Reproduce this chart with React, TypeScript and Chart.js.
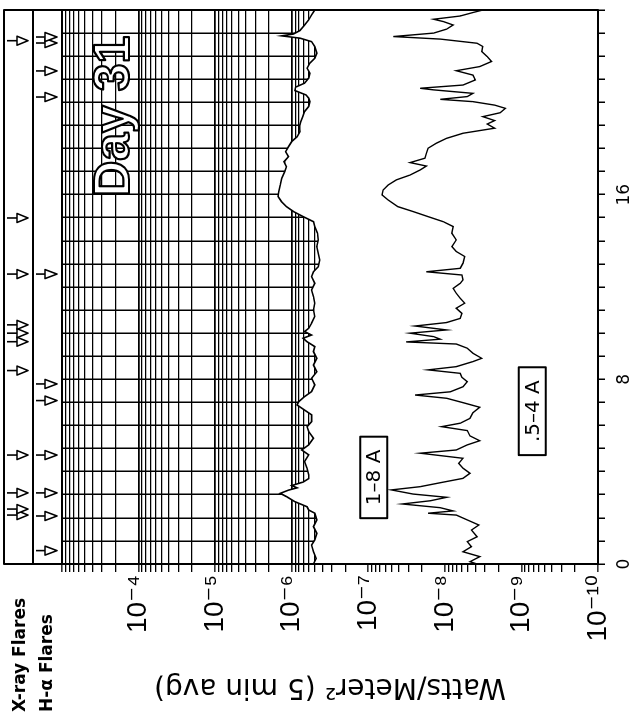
import { useEffect, useRef } from 'react';
import { Chart, registerables } from 'chart.js';

Chart.register(...registerables);

// ---------- data (hours UT, W/m^2) ----------
const longHours = [0.00, 0.24, 0.53, 0.82, 1.04, 1.33, 1.62, 1.91, 2.20, 2.34,
  2.48, 2.70, 2.92, 3.06, 3.20, 3.30, 3.40, 3.55, 3.70, 3.86,
  4.15, 4.44, 4.73, 4.94, 5.16, 5.45, 5.74, 5.95, 6.17, 6.46,
  6.67, 6.89, 7.03, 7.25, 7.47, 7.76, 8.05, 8.33, 8.62, 8.91,
  9.20, 9.42, 9.63, 9.78, 9.92, 10.07, 10.21, 10.43, 10.72, 11.01,
  11.30, 11.58, 11.87, 12.16, 12.45, 12.66, 12.88, 13.17, 13.46, 13.75,
  14.04, 14.33, 14.62, 14.83, 15.05, 15.27, 15.48, 15.70, 15.92, 16.13,
  16.42, 16.71, 17.00, 17.21, 17.43, 17.65, 17.86, 18.08, 18.30, 18.51,
  18.73, 18.95, 19.16, 19.38, 19.60, 19.82, 20.03, 20.18, 20.32, 20.51,
  20.66, 20.83, 21.05, 21.26, 21.48, 21.70, 21.91, 22.13, 22.42, 22.63,
  22.78, 22.88, 22.96, 23.11, 23.35, 23.57, 23.79, 24.00];

const longFlux = [5.2e-7, 4.8e-7, 5.2e-7, 5.5e-7, 5.0e-7, 4.7e-7, 5.2e-7, 4.7e-7, 5.0e-7, 6.0e-7,
  6.3e-7, 9.1e-7, 1.17e-6, 1.41e-6, 1.1e-6, 8.5e-7, 1.0e-6, 7.1e-7, 6.0e-7, 6.0e-7,
  6.3e-7, 6.8e-7, 6.0e-7, 7.4e-7, 6.0e-7, 5.2e-7, 6.0e-7, 6.3e-7, 5.5e-7, 5.5e-7,
  6.8e-7, 8.5e-7, 8.1e-7, 6.8e-7, 5.5e-7, 5.0e-7, 5.5e-7, 4.7e-7, 5.2e-7, 4.7e-7,
  5.2e-7, 5.0e-7, 6.3e-7, 7.1e-7, 5.5e-7, 6.8e-7, 6.0e-7, 5.5e-7, 5.0e-7, 5.2e-7,
  5.0e-7, 5.2e-7, 5.5e-7, 5.0e-7, 5.5e-7, 5.2e-7, 4.5e-7, 4.3e-7, 4.5e-7, 4.7e-7,
  4.5e-7, 4.6e-7, 5.0e-7, 5.2e-7, 7.1e-7, 9.5e-7, 1.17e-6, 1.36e-6, 1.51e-6, 1.48e-6,
  1.41e-6, 1.35e-6, 1.23e-6, 1.17e-6, 1.26e-6, 1.10e-6, 1.2e-6, 1.10e-6, 1.0e-6, 8.5e-7,
  7.8e-7, 7.9e-7, 7.6e-7, 7.2e-7, 6.8e-7, 6.0e-7, 5.8e-7, 6.0e-7, 6.5e-7, 9.1e-7,
  8.9e-7, 6.8e-7, 6.0e-7, 5.8e-7, 6.3e-7, 5.8e-7, 5.0e-7, 4.7e-7, 5.0e-7, 5.5e-7,
  7.8e-7, 1.35e-6, 9.5e-7, 7.8e-7, 6.8e-7, 6.0e-7, 5.5e-7, 5.0e-7];

const shortHours = [0.00, 0.10, 0.32, 0.53, 0.75, 0.97, 1.18, 1.47, 1.69, 1.91,
  2.12, 2.20, 2.30, 2.44, 2.60, 2.74, 2.89, 3.03, 3.21, 3.35,
  3.52, 3.71, 3.93, 4.15, 4.36, 4.58, 4.80, 4.94, 5.16, 5.34,
  5.55, 5.78, 5.95, 6.10, 6.31, 6.55, 6.79, 6.99, 7.18, 7.32,
  7.46, 7.68, 7.90, 8.09, 8.26, 8.41, 8.55, 8.77, 8.91, 9.13,
  9.35, 9.53, 9.62, 9.74, 9.85, 10.00, 10.14, 10.31, 10.46, 10.64,
  10.86, 11.08, 11.30, 11.51, 11.73, 11.94, 12.16, 12.31, 12.52, 12.66,
  12.81, 13.03, 13.32, 13.54, 13.75, 14.04, 14.33, 14.62, 14.83, 15.05,
  15.27, 15.48, 15.77, 15.99, 16.20, 16.42, 16.64, 16.85, 17.07, 17.24,
  17.39, 17.58, 17.79, 18.01, 18.23, 18.44, 18.66, 18.88, 19.06, 19.21,
  19.38, 19.55, 19.74, 19.88, 20.03, 20.13, 20.25, 20.39, 20.54, 20.61,
  20.75, 20.97, 21.18, 21.37, 21.55, 21.77, 21.98, 22.20, 22.42, 22.56,
  22.74, 22.85, 23.00, 23.17, 23.35, 23.50, 23.60, 23.74, 23.89, 24.00];

const shortFlux = [3.8e-9, 4.7e-9, 3.5e-9, 5.8e-9, 4.5e-9, 5.1e-9, 3.8e-9, 4.5e-9, 3.6e-9, 5.1e-9,
  7.1e-9, 1.66e-8, 7.8e-9, 1.15e-8, 3.6e-8, 1.55e-8, 9.5e-9, 2.6e-8, 5.0e-8, 2.1e-8,
  1.15e-8, 5.8e-9, 4.7e-9, 5.8e-9, 6.6e-9, 5.8e-9, 2.1e-8, 7.1e-9, 5.1e-9, 3.5e-9,
  4.7e-9, 5.1e-9, 1.1e-8, 6.3e-9, 4.7e-9, 4.3e-9, 3.5e-9, 5.8e-9, 9.5e-9, 2.45e-8,
  8.5e-9, 5.8e-9, 5.1e-9, 6.0e-9, 6.3e-9, 1.66e-8, 7.1e-9, 4.3e-9, 3.3e-9, 4.3e-9,
  5.1e-9, 7.1e-9, 3.2e-8, 1.15e-8, 1.4e-8, 2.85e-8, 9.5e-9, 2.45e-8, 9.5e-9, 6.3e-9,
  6.0e-9, 7.1e-9, 5.5e-9, 6.3e-9, 7.1e-9, 7.8e-9, 6.3e-9, 5.8e-9, 6.0e-9, 1.74e-8,
  6.3e-9, 5.8e-9, 5.5e-9, 7.1e-9, 8.1e-9, 7.1e-9, 8.1e-9, 7.8e-9, 1.05e-8, 1.66e-8,
  2.6e-8, 4.1e-8, 5.5e-8, 6.6e-8, 6.4e-8, 5.5e-8, 4.3e-8, 2.85e-8, 2.1e-8, 1.74e-8,
  2.85e-8, 1.82e-8, 1.74e-8, 1.66e-8, 1.29e-8, 9.5e-9, 5.8e-9, 2.24e-9, 2.8e-9, 2.24e-9,
  3.2e-9, 1.9e-9, 1.62e-9, 2.24e-9, 4.3e-9, 1.15e-8, 5.1e-9, 4.3e-9, 1.4e-8, 2.1e-8,
  5.8e-9, 4.0e-9, 4.3e-9, 7.1e-9, 3.5e-9, 2.45e-9, 2.8e-9, 3.3e-9, 3.2e-9, 3.8e-9,
  1.15e-8, 4.7e-8, 1.4e-8, 9.5e-9, 7.8e-9, 1.05e-8, 1.4e-8, 6.3e-9, 4.3e-9, 3.2e-9];

const xrayFlareHours = [2.12, 2.38, 3.08, 4.72, 8.38, 9.63, 10.0, 10.36, 12.56, 14.99, 22.67];
const halphaFlareHours = [0.58, 2.08, 3.08, 4.72, 7.08, 7.8, 12.56, 20.23, 21.36, 22.57, 22.83];

const fluxDecades = [1e-10, 1e-9, 1e-8, 1e-7, 1e-6, 1e-5, 1e-4, 1e-3];
const fluxDecadeLabels = ['10⁻¹⁰', '10⁻⁹', '10⁻⁸', '10⁻⁷', '10⁻⁶', '10⁻⁵', '10⁻⁴', ''];
const fluxMantissas = [1, 2, 3, 4, 5, 6, 7, 8, 9];
const timeLabelHours = [0, 8, 16];
const hourGrid = [0, 1, 2, 3, 4, 5, 6, 7, 8, 9, 10, 11, 12, 13, 14, 15, 16, 17, 18, 19, 20, 21, 22, 23, 24];

const axisTitle = 'Watts/Meter² (5 min avg)';
const flareRowLabels = ['X-ray Flares', 'H-α Flares'];
const seriesBoxLabels = ['1–8 A', '.5–4 A'];
const seriesBoxHours = [3.75, 6.62];
const seriesBoxFlux = [8.5e-8, 7.2e-10];
const dayLabel = 'Day 31';
const dayLabelHour = 19.4;
const dayLabelFlux = 2.0e-4;

// ---------- derived ----------
const longPoints = longHours.map((h, i) => ({ x: h, y: longFlux[i] }));
const shortPoints = shortHours.map((h, i) => ({ x: h, y: shortFlux[i] }));
const fluxTickValues: number[] = [];
fluxDecades.forEach((d, i) => {
  if (i < fluxDecades.length - 1) fluxMantissas.forEach((m) => fluxTickValues.push(m * d));
  else fluxTickValues.push(d);
});
const decadeIndex = (v: number) => fluxDecades.findIndex((d) => Math.abs(v / d - 1) < 1e-6);

const FONT = '"DejaVu Sans", "Liberation Sans", sans-serif';
const TICKFONT = '"Liberation Sans", "DejaVu Sans", sans-serif';

function drawArrow(ctx: CanvasRenderingContext2D, u: number, v0: number, v1: number, v2: number, hw: number) {
  ctx.beginPath();
  ctx.moveTo(u, v0);
  ctx.lineTo(u, v1);
  ctx.stroke();
  ctx.beginPath();
  ctx.moveTo(u - hw, v1);
  ctx.lineTo(u + hw, v1);
  ctx.lineTo(u, v2);
  ctx.closePath();
  ctx.fillStyle = '#fff';
  ctx.fill();
  ctx.stroke();
}

const overlay = {
  id: 'goesOverlay',
  afterDatasetsDraw(chart: any) {
    const { ctx, chartArea: a, scales } = chart;
    const xs = scales.x;
    const ys = scales.y;
    ctx.save();
    ctx.strokeStyle = '#000';
    ctx.fillStyle = '#000';

    // Day label (outlined)
    ctx.font = `bold 50px "Liberation Sans", Arial, sans-serif`;
    ctx.textAlign = 'center';
    ctx.textBaseline = 'middle';
    const dx = xs.getPixelForValue(dayLabelHour);
    const dy = ys.getPixelForValue(dayLabelFlux);
    ctx.fillStyle = '#fff';
    ctx.fillText(dayLabel, dx, dy);
    ctx.lineWidth = 2.2;
    ctx.lineJoin = 'round';
    ctx.strokeText(dayLabel, dx, dy);

    // series label boxes
    ctx.font = `20px ${FONT}`;
    seriesBoxLabels.forEach((txt, i) => {
      const cx = xs.getPixelForValue(seriesBoxHours[i]);
      const cy = ys.getPixelForValue(seriesBoxFlux[i]);
      const w = ctx.measureText(txt).width + 26;
      const h = 27;
      ctx.fillStyle = '#fff';
      ctx.fillRect(cx - w / 2, cy - h / 2, w, h);
      ctx.lineWidth = 2;
      ctx.strokeRect(cx - w / 2, cy - h / 2, w, h);
      ctx.fillStyle = '#000';
      ctx.fillText(txt, cx, cy + 1);
    });

    // plot frame
    ctx.lineWidth = 2;
    ctx.strokeRect(a.left, a.top, a.right - a.left, a.bottom - a.top);

    // flare band
    const bandTop = 4;
    const bandMid = 33;
    ctx.strokeRect(a.left, bandTop, a.right - a.left, a.top - bandTop);
    ctx.beginPath();
    ctx.moveTo(a.left, bandMid);
    ctx.lineTo(a.right, bandMid);
    ctx.stroke();
    ctx.lineWidth = 1.6;
    xrayFlareHours.forEach((h) => drawArrow(ctx, xs.getPixelForValue(h), 7, 17, 28, 4.5));
    halphaFlareHours.forEach((h) => drawArrow(ctx, xs.getPixelForValue(h), 36, 45, 57, 4.5));

    ctx.fillStyle = '#000';
    ctx.font = `bold 17px ${FONT}`;
    ctx.textAlign = 'left';
    ctx.textBaseline = 'middle';
    ctx.fillText(flareRowLabels[0], 8, 21);
    ctx.fillText(flareRowLabels[1], 8, 48);
    ctx.restore();
  },
};

export default function App() {
  const ref = useRef<HTMLCanvasElement>(null);
  useEffect(() => {
    const chart = new Chart(ref.current as HTMLCanvasElement, {
      type: 'line',
      data: {
        datasets: [
          {
            label: '.5-4 A',
            data: shortPoints,
            borderColor: '#000',
            borderWidth: 1.4,
            pointRadius: 0,
            fill: false,
            tension: 0,
          },
          {
            label: '1-8 A',
            data: longPoints,
            borderColor: '#000',
            borderWidth: 1.6,
            pointRadius: 0,
            fill: 'start',
            backgroundColor: '#fff',
            tension: 0,
          },
        ],
      },
      options: {
        animation: false,
        responsive: false,
        events: [],
        layout: { padding: { top: 62, right: 10, left: 0, bottom: 0 } },
        plugins: { legend: { display: false }, tooltip: { enabled: false } },
        scales: {
          x: {
            type: 'linear',
            min: 0,
            max: 24,
            afterBuildTicks: (s: any) => {
              s.ticks = hourGrid.map((value) => ({ value }));
            },
            afterFit: (s: any) => {
              s.height = 34;
            },
            ticks: {
              autoSkip: false,
              maxRotation: 0,
              minRotation: 0,
              padding: 9,
              color: '#000',
              font: { family: FONT, size: 17 },
              callback: (v: any) => (timeLabelHours.includes(Number(v)) ? String(v) : ''),
            },
            grid: { color: '#000', lineWidth: 1.5, tickLength: 7, tickWidth: 1.5, tickColor: '#000' },
            border: { display: true, color: '#000', width: 2 },
          },
          y: {
            type: 'logarithmic',
            min: 1e-10,
            max: 1e-3,
            afterBuildTicks: (s: any) => {
              s.ticks = fluxTickValues.map((value) => ({ value }));
            },
            afterFit: (s: any) => {
              s.width = 156;
            },
            ticks: {
              autoSkip: false,
              padding: 3,
              color: '#000',
              font: { family: TICKFONT, size: 28 },
              callback: (v: any) => {
                const i = decadeIndex(Number(v));
                return i >= 0 ? fluxDecadeLabels[i] : '';
              },
            },
            grid: {
              color: '#000',
              lineWidth: (c: any) => (decadeIndex(c.tick?.value ?? 0) >= 0 ? 1.7 : 1.3),
              tickLength: 8,
              tickWidth: 1.3,
              tickColor: '#000',
            },
            border: { display: true, color: '#000', width: 2 },
            title: {
              display: true,
              text: axisTitle,
              color: '#000',
              font: { family: FONT, size: 28 },
              padding: { top: 17, bottom: 0 },
            },
          },
        },
      },
      plugins: [overlay],
    } as any);
    return () => chart.destroy();
  }, []);

  return (
    <div
      style={{
        position: 'absolute',
        left: 0,
        top: 0,
        width: 720,
        height: 632,
        transformOrigin: '0 0',
        transform: 'translate(0px, 720px) rotate(-90deg)',
      }}
    >
      <canvas ref={ref} width={720} height={632} style={{ display: 'block', width: 720, height: 632 }} />
    </div>
  );
}
